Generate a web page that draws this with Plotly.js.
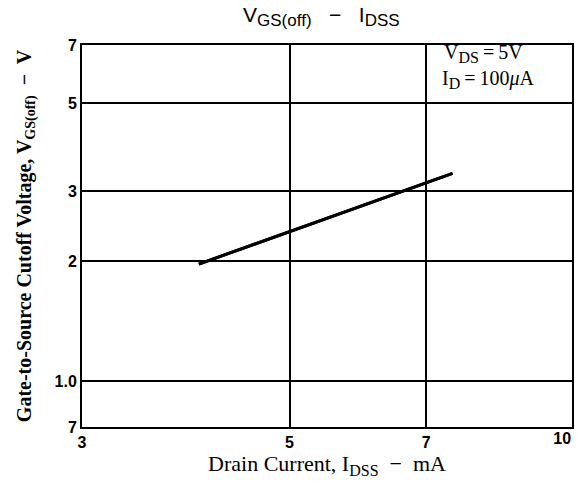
<!DOCTYPE html>
<html>
<head>
<meta charset="utf-8">
<script src="https://cdn.plot.ly/plotly-3.0.1.min.js"></script>
<style>html,body{margin:0;padding:0;background:#fff;}#chart{width:579px;height:491px;}</style>
</head>
<body>
<div id="chart"></div>
<script>
// Curve (IDSS in mA, VGS(off) in V)
const idss = [4.0, 5.0, 6.6, 7.47];
const vgsoff = [1.97, 2.38, 3.0, 3.33];

// Axis ticks
const xTickVals = [3, 5, 7];
const xTickText = ["3", "5", "7"];
const xEndTickVals = [10];
const xEndTickText = ["10"];
const yTickVals = [0.767, 1, 2, 3, 5, 7];
const yTickText = ["7", "1.0", "2", "3", "5", "7"];

const trace = {
  x: idss, y: vgsoff, type: 'scatter', mode: 'lines',
  line: {color: '#000', width: 3}, hoverinfo: 'skip'
};
const trace2 = Object.assign({}, trace, {xaxis: 'x2'});

const serif = 'Liberation Serif, Times New Roman, serif';
const sans = 'Liberation Sans, Arial, sans-serif';
const xRange = [Math.log10(3), Math.log10(10) + 0.001];

const layout = {
  width: 579, height: 491,
  margin: {l: 82, r: 7, t: 45, b: 64},
  paper_bgcolor: '#fff', plot_bgcolor: '#fff',
  showlegend: false,
  title: {
    text: 'V<sub><span style="font-size:17px">GS(off)</span></sub>   −   I<sub><span style="font-size:17px">DSS</span></sub>',
    font: {family: sans, size: 21, color: '#000'},
    x: 0.555, xanchor: 'center', y: 0.985, yanchor: 'top'
  },
  xaxis: {
    type: 'log', range: xRange,
    tickvals: xTickVals, ticktext: xTickText, ticks: '',
    showgrid: true, gridcolor: '#000', gridwidth: 2,
    showline: true, linecolor: '#000', linewidth: 2, mirror: true,
    zeroline: false,
    tickfont: {family: sans, size: 16, color: '#000', weight: 'bold'},
    title: {text: 'Drain Current, I<sub><span style="font-size:16px">DSS</span></sub>  −  mA',
      font: {family: serif, size: 22, color: '#000'}, standoff: 4}
  },
  xaxis2: {
    type: 'log', range: xRange, overlaying: 'x', anchor: 'y', side: 'bottom',
    tickvals: xEndTickVals, ticktext: xEndTickText, ticks: '',
    ticklabelposition: 'outside left',
    showgrid: false, showline: false, zeroline: false,
    tickfont: {family: sans, size: 16, color: '#000', weight: 'bold'}
  },
  yaxis: {
    type: 'log', range: [Math.log10(0.767), Math.log10(7.0)],
    tickvals: yTickVals, ticktext: yTickText, ticks: '',
    showgrid: true, gridcolor: '#000', gridwidth: 2,
    showline: true, linecolor: '#000', linewidth: 2, mirror: true,
    zeroline: false,
    tickfont: {family: sans, size: 16, color: '#000', weight: 'bold'},
    title: {text: 'Gate-to-Source Cutoff Voltage, V<sub>GS(off)</sub>  −  V',
      font: {family: serif, size: 20, color: '#000', weight: 'bold'}, standoff: 18}
  },
  annotations: [
    {xref: 'paper', yref: 'paper', x: 0.735, y: 0.979, xanchor: 'left', yanchor: 'middle',
     text: 'V<sub><span style="font-size:16px">DS</span></sub>\u2009=\u20095V', showarrow: false,
     font: {family: serif, size: 20, color: '#000'}},
    {xref: 'paper', yref: 'paper', x: 0.731, y: 0.909, xanchor: 'left', yanchor: 'middle',
     text: 'I<sub><span style="font-size:16px">D</span></sub>\u2009=\u2009100<i>μ</i>A', showarrow: false,
     font: {family: serif, size: 20, color: '#000'}}
  ]
};

Plotly.newPlot('chart', [trace, trace2], layout, {displayModeBar: false, staticPlot: true});
</script>
</body>
</html>
